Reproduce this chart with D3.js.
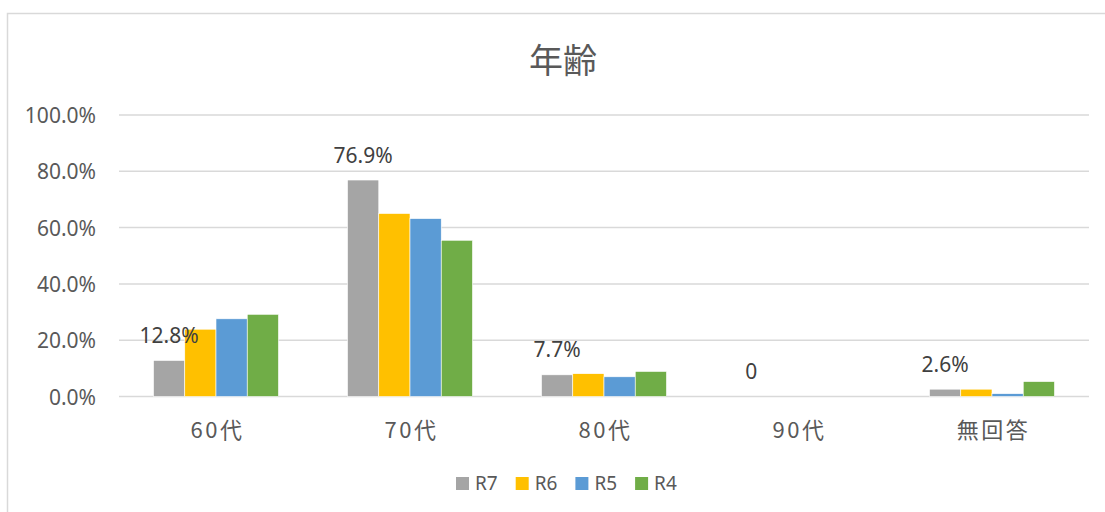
<!DOCTYPE html>
<html>
<head>
<meta charset="utf-8">
<script src="https://cdn.jsdelivr.net/npm/d3@7"></script>
<style>
  body { margin: 0; background: #fff; }
  svg { display: block; }
</style>
</head>
<body>
<div id="chart"></div>
<script>
var categories = ["60代", "70代", "80代", "90代", "無回答"];
var seriesNames = ["R7", "R6", "R5", "R4"];
var r7 = [12.8, 76.9, 7.7, 0, 2.6];
var r6 = [23.9, 65.0, 8.1, 0, 2.6];
var r5 = [27.6, 63.2, 7.0, 0, 1.0];
var r4 = [29.2, 55.5, 8.9, 0, 5.3];
var r7Labels = ["12.8%", "76.9%", "7.7%", "0", "2.6%"];
var yTicks = [0, 20, 40, 60, 80, 100];
var colors = ["#A5A5A5", "#FFC000", "#5B9BD5", "#70AD47"];

var w = 1105, h = 512;
var seriesValues = [r7, r6, r5, r4];

var svg = d3.select("#chart")
    .append("svg")
    .attr("width", w)
    .attr("height", h);

// chart frame
svg.append("rect")
    .attr("x", 7.5)
    .attr("y", 13.5)
    .attr("width", w + 10)
    .attr("height", h + 10)
    .attr("fill", "#fff")
    .attr("stroke", "#D9D9D9")
    .attr("stroke-width", 1.5);

svg.append("text")
    .text("年齢")
    .attr("x", 563)
    .attr("y", 73)
    .attr("text-anchor", "middle")
    .attr("font-family", "'Noto Sans CJK JP'")
    .attr("font-size", "34px")
    .attr("fill", "#595959");

var x0 = d3.scaleBand()
    .domain(categories)
    .range([119, 1089])
    .paddingInner(0.356)
    .paddingOuter(0.178);

var x1 = d3.scaleBand()
    .domain(seriesNames)
    .range([0, x0.bandwidth()]);

var y = d3.scaleLinear()
    .domain([0, 100])
    .range([396.5, 115]);

// gridlines
svg.selectAll("line.grid")
    .data(yTicks)
    .enter()
    .append("line")
    .attr("class", "grid")
    .attr("x1", 119)
    .attr("x2", 1089)
    .attr("y1", function(d) { return y(d); })
    .attr("y2", function(d) { return y(d); })
    .attr("stroke", "#D9D9D9")
    .attr("stroke-width", 1.5);

svg.selectAll("text.ytick")
    .data(yTicks)
    .enter()
    .append("text")
    .attr("class", "ytick")
    .text(function(d) { return d.toFixed(1) + "%"; })
    .attr("x", 96)
    .attr("y", function(d) { return y(d) + 8; })
    .attr("text-anchor", "end")
    .attr("font-family", "'Noto Sans'")
    .attr("font-size", "21px")
    .attr("fill", "#595959");

var groups = svg.selectAll("g.cat")
    .data(categories)
    .enter()
    .append("g")
    .attr("class", "cat")
    .attr("transform", function(d) { return "translate(" + x0(d) + ",0)"; });

groups.selectAll("rect")
    .data(function(d, i) {
        return seriesNames.map(function(s, j) {
            return { s: s, v: seriesValues[j][i], c: colors[j] };
        });
    })
    .enter()
    .append("rect")
    .attr("x", function(d) { return x1(d.s); })
    .attr("width", x1.bandwidth())
    .attr("y", function(d) { return y(d.v); })
    .attr("height", function(d) { return y(0) - y(d.v); })
    .attr("fill", function(d) { return d.c; })
    .attr("stroke", "#fff")
    .attr("stroke-width", 0.6);

// R7 data labels
svg.selectAll("text.dlabel")
    .data(categories)
    .enter()
    .append("text")
    .attr("class", "dlabel")
    .text(function(d, i) { return r7Labels[i]; })
    .attr("x", function(d) { return x0(d) + x1("R7") + x1.bandwidth() / 2; })
    .attr("y", function(d, i) { return y(r7[i]) - 17.5; })
    .attr("text-anchor", "middle")
    .attr("font-family", "'Noto Sans'")
    .attr("font-size", "21px")
    .attr("fill", "#404040");

svg.selectAll("text.xlabel")
    .data(categories)
    .enter()
    .append("text")
    .attr("class", "xlabel")
    .text(function(d) { return d; })
    .attr("x", function(d) { return x0(d) + x0.bandwidth() / 2 + 1.5; })
    .attr("y", 438)
    .attr("text-anchor", "middle")
    .attr("font-family", "'Noto Sans CJK JP'")
    .attr("font-size", "22px")
    .attr("letter-spacing", "2.5px")
    .attr("fill", "#595959");

// legend
var legend = svg.selectAll("g.legend")
    .data(seriesNames)
    .enter()
    .append("g")
    .attr("class", "legend")
    .attr("transform", function(d, i) { return "translate(" + (456 + i * 59.7) + ",477)"; });

legend.append("rect")
    .attr("width", 13)
    .attr("height", 13)
    .attr("fill", function(d, i) { return colors[i]; });

legend.append("text")
    .text(function(d) { return d; })
    .attr("x", 19)
    .attr("y", 13)
    .attr("font-family", "'Noto Sans'")
    .attr("font-size", "19px")
    .attr("fill", "#595959");
</script>
</body>
</html>
